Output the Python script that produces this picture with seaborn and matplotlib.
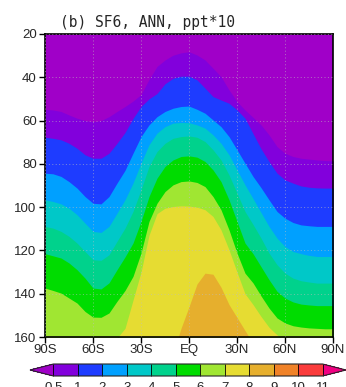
import numpy as np
import matplotlib
matplotlib.use("Agg")
import matplotlib.pyplot as plt
import matplotlib.cm as cm
from matplotlib.colors import ListedColormap, BoundaryNorm
import seaborn as sns

# latitude columns (deg, south negative), every 5 deg
lats = [-90, -85, -80, -75, -70, -65, -60, -55, -50, -45, -40, -35, -30,
        -25, -20, -15, -10, -5, 0, 5, 10, 15, 20, 25, 30,
        35, 40, 45, 50, 55, 60, 65, 70, 75, 80, 85, 90]

# level (y axis) where the field reaches each contour value
b_05 = [54.8, 55.1, 55.8, 57.4, 58.9, 60, 60.5, 60, 58.2, 55.8, 53.5, 51, 48,
        41, 35, 32, 29.8, 28.7, 28.2, 29.7, 32, 35.8, 39.7, 45.8, 51.2,
        55.1, 58.5, 62, 66.6, 72, 75.1, 76.6, 77.4, 77.8, 78.2, 78.5, 78.6]
b_1 = [67.7, 68.2, 68.9, 70.5, 72.8, 75.8, 77.4, 77.4, 75.1, 70.5, 65.5, 59, 53.5,
       50, 47.5, 43, 40.5, 39.5, 39.5, 41.2, 45, 48.9, 50.5, 52, 55.1,
       58.9, 66, 73, 78.9, 84.3, 87.4, 88.9, 90.2, 90.8, 91.1, 91.2, 91.2]
b_2 = [84.3, 84.6, 85.8, 88.2, 91.2, 95.1, 98.2, 98.5, 95.1, 88.9, 83, 75.1, 67.4,
       62, 58.2, 55.8, 54.3, 53.5, 53.3, 54.8, 56.6, 59.7, 62.8, 67.4, 73.5,
       79.7, 85.8, 91, 96.6, 102, 105.1, 107.1, 108.2, 108.6, 108.9, 108.9, 108.9]
b_3 = [96.6, 97.4, 98.5, 100.5, 103.5, 107.4, 111.2, 111.7, 108.9, 102.8, 96.6, 88.9, 79.7,
       71.2, 65.8, 62.8, 61.2, 60.9, 61, 62, 63.5, 66.6, 70.5, 75.8, 82.8,
       89.7, 96, 102.5, 108.9, 114.3, 118.2, 120.5, 121.5, 122.3, 122.8, 122.8, 122.8]
b_4 = [108.9, 109.7, 111.2, 113.5, 116.6, 120.5, 124.3, 124.6, 122, 115.8, 109.7, 102, 92,
       81.2, 74.3, 70.5, 68.2, 67.4, 67.1, 67.7, 69.7, 73.5, 78.2, 85.1, 93.5,
       102, 108, 114.3, 121.2, 126.6, 130.5, 132.8, 134, 134.6, 135.1, 135.1, 135.1]
b_5 = [121.5, 122.5, 123.5, 125.8, 128.9, 132.8, 137.4, 137.8, 135, 128.9, 123, 116.6, 106.6,
       95.1, 86.6, 81.2, 78.2, 76.6, 76.3, 76.9, 78.9, 82.8, 88.2, 96.6, 106.6,
       116.6, 121.5, 127.5, 133.5, 138.9, 142, 143.8, 144.8, 145.2, 145.5, 145.5, 145.5]
b_6 = [137.4, 138.5, 139.7, 142, 144.3, 148.2, 150.8, 150.9, 148.9, 143.5, 138.5, 132, 121.2,
       106.6, 98.2, 92.8, 89.7, 88.2, 87.9, 88.6, 90.5, 95.1, 101.2, 110.5, 121.2,
       130.5, 135, 141, 146.6, 151.2, 153.5, 154.8, 155.4, 155.8, 156, 156.2, 156.2]
# 7 contour: values > 160 lie below the plotted range
b_7 = [175, 175, 175, 175, 175, 175, 175, 172, 168, 160.5, 156, 143, 130,
       113, 103, 100.5, 99.7, 99.4, 99.5, 100, 101.2, 104.3, 110.5, 119.7, 130,
       140, 145, 150.5, 155.5, 159, 162, 166, 170, 172, 175, 175, 175]
# 8 contour only reaches into the plot between about 7S and 37N
lats_8 = [-10, -5, 0, 5, 10, 15, 20, 25, 30, 35, 40]
b_8 = [168, 156, 146, 135.5, 130.5, 131, 137, 145, 151, 157, 163]

levels = [0.5, 1, 2, 3, 4, 5, 6, 7, 8, 9, 10, 11]
level_labels = ["0.5", "1", "2", "3", "4", "5", "6", "7", "8", "9", "10", "11"]
colors = ["#A000C8", "#8200DC", "#1E3CFF", "#00A0FF", "#00C8C8", "#00D28C", "#00DC00",
          "#A0E632", "#E6DC32", "#E6AF2D", "#F08228", "#FA3C3C", "#F00082"]

lat_ticks = [-90, -60, -30, 0, 30, 60, 90]
lat_labels = ["90S", "60S", "30S", "EQ", "30N", "60N", "90N"]
y_ticks = [20, 40, 60, 80, 100, 120, 140, 160]

sns.set_style("ticks")
plt.rcParams["font.family"] = ["Liberation Sans", "DejaVu Sans"]

fig = plt.figure(figsize=(3.46, 3.87), dpi=100)
ax = fig.add_axes([45 / 346, 1 - 337 / 387, 288 / 346, 303 / 387])

# filled bands, painted from the top value downward
ax.fill_between(lats, 20, 160, color=colors[0], lw=0)
bounds = [b_05, b_1, b_2, b_3, b_4, b_5, b_6, b_7]
for i, b in enumerate(bounds):
    ax.fill_between(lats, b, 160, color=colors[i + 1], lw=0)
ax.fill_between(lats_8, b_8, 160, color=colors[9], lw=0)

ax.set_xlim(-90, 90)
ax.set_ylim(160, 20)
ax.set_xticks(lat_ticks)
ax.set_xticklabels(lat_labels)
ax.set_yticks(y_ticks)
ax.tick_params(axis="both", labelsize=9.5, length=4, width=1, direction="out", color="black")
ax.tick_params(axis="x", pad=1)
ax.tick_params(axis="y", pad=2)
ax.grid(True, linestyle=(0, (1, 2.5)), color="#BEBEBE", linewidth=0.7, alpha=0.6)
ax.set_axisbelow(False)
for s in ax.spines.values():
    s.set_linewidth(1.2)
    s.set_color("black")

fig.text(60 / 346, 1 - 26.5 / 387, "(b) SF6, ANN, ppt*10", family="DejaVu Sans Mono",
         fontsize=10.5, va="baseline", ha="left")

# colorbar (axes box includes the triangular ends)
cax = fig.add_axes([30 / 346, 1 - 376 / 387, 316 / 346, 12 / 387])
cmap = ListedColormap(colors[1:-1])
cmap.set_under(colors[0])
cmap.set_over(colors[-1])
norm = BoundaryNorm(levels, cmap.N)
sm = cm.ScalarMappable(norm=norm, cmap=cmap)
cbar = fig.colorbar(sm, cax=cax, orientation="horizontal", extend="both",
                    extendfrac=0.087, ticks=levels, drawedges=True)
cbar.set_ticklabels(level_labels)
cbar.ax.tick_params(length=0, labelsize=9.5, pad=4)
cbar.outline.set_linewidth(0.8)
cbar.dividers.set_linewidth(0.6)
cbar.dividers.set_color("black")

fig.savefig("out.png", dpi=100)
